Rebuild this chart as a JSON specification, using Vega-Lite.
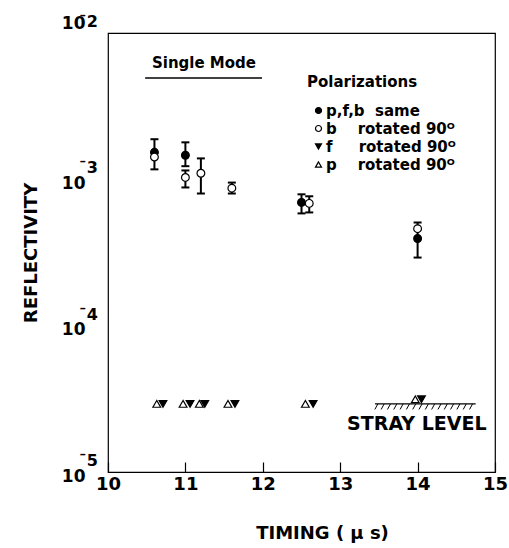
{
  "$schema": "https://vega.github.io/schema/vega-lite/v6.json",
  "width": 387,
  "height": 439,
  "autosize": "none",
  "padding": {"left": 108, "top": 33, "right": 14, "bottom": 76},
  "background": "white",
  "config": {"font": "DejaVu Sans", "view": {"stroke": "black", "strokeWidth": 1.2}},
  "datasets": {
    "pts": [
      {"t": 10.6, "s": "p,f,b same", "R": 0.00153, "lo": 0.00117, "hi": 0.00188},
      {"t": 11.0, "s": "p,f,b same", "R": 0.00146, "lo": 0.00123, "hi": 0.00179},
      {"t": 12.5, "s": "p,f,b same", "R": 0.000695, "lo": 0.000585, "hi": 0.00079},
      {"t": 14.0, "s": "p,f,b same", "R": 0.000394},
      {"t": 10.6, "s": "b rotated 90ᴼ", "R": 0.00142},
      {"t": 11.0, "s": "b rotated 90ᴼ", "R": 0.00103, "lo": 0.00088, "hi": 0.00115},
      {"t": 11.2, "s": "b rotated 90ᴼ", "R": 0.0011, "lo": 0.0008, "hi": 0.00139},
      {"t": 11.6, "s": "b rotated 90ᴼ", "R": 0.00087, "lo": 0.0008, "hi": 0.00095},
      {"t": 12.6, "s": "b rotated 90ᴼ", "R": 0.000685, "lo": 0.000594, "hi": 0.000766},
      {"t": 14.0, "s": "b rotated 90ᴼ", "R": 0.00046, "lo": 0.000292, "hi": 0.000507},
      {"t": 10.71, "s": "f rotated 90ᴼ", "R": 0.0000292},
      {"t": 11.06, "s": "f rotated 90ᴼ", "R": 0.0000292},
      {"t": 11.25, "s": "f rotated 90ᴼ", "R": 0.0000292},
      {"t": 11.64, "s": "f rotated 90ᴼ", "R": 0.0000292},
      {"t": 12.65, "s": "f rotated 90ᴼ", "R": 0.0000292},
      {"t": 14.05, "s": "f rotated 90ᴼ", "R": 0.0000314},
      {"t": 10.63, "s": "p rotated 90ᴼ", "R": 0.0000292},
      {"t": 10.97, "s": "p rotated 90ᴼ", "R": 0.0000292},
      {"t": 11.18, "s": "p rotated 90ᴼ", "R": 0.0000292},
      {"t": 11.55, "s": "p rotated 90ᴼ", "R": 0.0000292},
      {"t": 12.55, "s": "p rotated 90ᴼ", "R": 0.0000292},
      {"t": 13.97, "s": "p rotated 90ᴼ", "R": 0.0000314}
    ]
  },
  "layer": [
    {
      "data": {"values": [{"t": 13.45, "t2": 14.75, "R": 0.0000292}]},
      "mark": {"type": "rule", "color": "black", "strokeWidth": 1.2},
      "encoding": {
        "x": {"field": "t", "type": "quantitative"},
        "x2": {"field": "t2"},
        "y": {"field": "R", "type": "quantitative"}
      }
    },
    {
      "data": {"values": [{"t": 14.1, "R": 0.0000292}]},
      "mark": {"type": "point", "shape": "M-1,0.11L-0.94,0M-0.875,0.11L-0.815,0M-0.75,0.11L-0.69,0M-0.625,0.11L-0.565,0M-0.5,0.11L-0.44,0M-0.375,0.11L-0.315,0M-0.25,0.11L-0.19,0M-0.125,0.11L-0.065,0M0,0.11L0.06,0M0.125,0.11L0.185,0M0.25,0.11L0.31,0M0.375,0.11L0.435,0M0.5,0.11L0.56,0M0.625,0.11L0.685,0M0.75,0.11L0.81,0M0.875,0.11L0.935,0", "size": 10201, "filled": false, "stroke": "black", "strokeWidth": 1, "opacity": 1},
      "encoding": {
        "x": {"field": "t", "type": "quantitative"},
        "y": {"field": "R", "type": "quantitative"}
      }
    },
    {
      "data": {"name": "pts"},
      "transform": [{"filter": "isValid(datum.lo)"}],
      "mark": {"type": "rule", "color": "black", "strokeWidth": 2},
      "encoding": {
        "x": {"field": "t", "type": "quantitative"},
        "y": {"field": "lo", "type": "quantitative"},
        "y2": {"field": "hi"}
      }
    },
    {
      "data": {"name": "pts"},
      "transform": [{"filter": "isValid(datum.lo)"}],
      "mark": {"type": "tick", "orient": "horizontal", "size": 8, "thickness": 2, "color": "black", "opacity": 1},
      "encoding": {
        "x": {"field": "t", "type": "quantitative"},
        "y": {"field": "lo", "type": "quantitative"}
      }
    },
    {
      "data": {"name": "pts"},
      "transform": [{"filter": "isValid(datum.hi)"}],
      "mark": {"type": "tick", "orient": "horizontal", "size": 8, "thickness": 2, "color": "black", "opacity": 1},
      "encoding": {
        "x": {"field": "t", "type": "quantitative"},
        "y": {"field": "hi", "type": "quantitative"}
      }
    },
    {
      "data": {"name": "pts"},
      "mark": {"type": "point", "filled": true, "strokeWidth": 1.2, "size": 60, "opacity": 1},
      "encoding": {
        "x": {
          "field": "t", "type": "quantitative",
          "scale": {"domain": [10, 15], "nice": false, "zero": false},
          "axis": {"title": "TIMING ( μ s)", "values": [10, 11, 12, 13, 14, 15], "format": "d", "labelFlush": false, "tickSize": -10, "tickColor": "black", "tickWidth": 1.2, "labelPadding": 13, "labelFontSize": 18, "labelFontWeight": "bold", "labelColor": "black", "titleFontSize": 18, "titleFontWeight": "bold", "titleColor": "black", "titlePadding": 31, "titleX": 214, "domain": false, "grid": false}
        },
        "y": {
          "field": "R", "type": "quantitative",
          "scale": {"type": "log", "domain": [0.00001, 0.01]},
          "axis": {"title": "REFLECTIVITY", "values": [0.00001, 0.0001, 0.001, 0.01], "labelExpr": "'10'", "ticks": false, "domain": false, "grid": false, "labelPadding": 23, "labelFontSize": 17, "labelFontWeight": "bold", "labelColor": "black", "labelOffset": {"condition": {"test": "datum.value > 0.005", "value": -10}, "value": 4}, "titleFontSize": 18, "titleFontWeight": "bold", "titleColor": "black", "titlePadding": 21}
        },
        "shape": {
          "field": "s", "type": "nominal",
          "scale": {"domain": ["p,f,b same", "b rotated 90ᴼ", "f rotated 90ᴼ", "p rotated 90ᴼ"], "range": ["circle", "circle", "triangle-down", "triangle-up"]},
          "legend": {"title": "Polarizations", "orient": "none", "legendX": 199, "legendY": 42, "titleFontSize": 15, "titleFontWeight": "bold", "titleColor": "black", "titlePadding": 13, "labelFontSize": 15, "labelFontWeight": "bold", "labelColor": "black", "symbolOffset": 4, "labelOffset": 0, "symbolSize": 36, "symbolStrokeWidth": 1.2, "rowPadding": 2, "labelExpr": "datum.label == 'p,f,b same' ? 'p,f,b\u00a0\u00a0same' : datum.label[0] == 'f' ? 'f\u00a0\u00a0\u00a0\u00a0\u00a0rotated 90ᴼ' : datum.label[0] + '\u00a0\u00a0\u00a0\u00a0rotated 90ᴼ'"}
        },
        "fill": {
          "field": "s", "type": "nominal",
          "scale": {"domain": ["p,f,b same", "b rotated 90ᴼ", "f rotated 90ᴼ", "p rotated 90ᴼ"], "range": ["black", "white", "black", "white"]},
          "legend": {"title": "Polarizations", "orient": "none", "legendX": 199, "legendY": 42, "titleFontSize": 15, "titleFontWeight": "bold", "titleColor": "black", "titlePadding": 13, "labelFontSize": 15, "labelFontWeight": "bold", "labelColor": "black", "symbolOffset": 4, "labelOffset": 0, "symbolSize": 36, "symbolStrokeWidth": 1.2, "rowPadding": 2, "labelExpr": "datum.label == 'p,f,b same' ? 'p,f,b\u00a0\u00a0same' : datum.label[0] == 'f' ? 'f\u00a0\u00a0\u00a0\u00a0\u00a0rotated 90ᴼ' : datum.label[0] + '\u00a0\u00a0\u00a0\u00a0rotated 90ᴼ'"}
        },
        "stroke": {
          "field": "s", "type": "nominal",
          "scale": {"domain": ["p,f,b same", "b rotated 90ᴼ", "f rotated 90ᴼ", "p rotated 90ᴼ"], "range": ["black", "black", "black", "black"]},
          "legend": {"title": "Polarizations", "orient": "none", "legendX": 199, "legendY": 42, "titleFontSize": 15, "titleFontWeight": "bold", "titleColor": "black", "titlePadding": 13, "labelFontSize": 15, "labelFontWeight": "bold", "labelColor": "black", "symbolOffset": 4, "labelOffset": 0, "symbolSize": 36, "symbolStrokeWidth": 1.2, "rowPadding": 2, "labelExpr": "datum.label == 'p,f,b same' ? 'p,f,b\u00a0\u00a0same' : datum.label[0] == 'f' ? 'f\u00a0\u00a0\u00a0\u00a0\u00a0rotated 90ᴼ' : datum.label[0] + '\u00a0\u00a0\u00a0\u00a0rotated 90ᴼ'"}
        }
      }
    },
    {
      "data": {"values": [{"t": 11.24, "R": 0.00623, "label": "Single Mode"}, {"t": 13.99, "R": 0.0000213, "label": "STRAY LEVEL"}]},
      "mark": {"type": "text", "fontWeight": "bold", "color": "black", "baseline": "middle"},
      "encoding": {
        "x": {"field": "t", "type": "quantitative"},
        "y": {"field": "R", "type": "quantitative"},
        "text": {"field": "label"},
        "size": {"field": "label", "type": "nominal", "scale": {"domain": ["Single Mode", "STRAY LEVEL"], "range": [15, 19]}, "legend": null}
      }
    },
    {
      "data": {"values": [{"t": 10.48, "t2": 11.99, "R": 0.00492}]},
      "mark": {"type": "rule", "color": "black", "strokeWidth": 1.5},
      "encoding": {
        "x": {"field": "t", "type": "quantitative"},
        "x2": {"field": "t2"},
        "y": {"field": "R", "type": "quantitative"}
      }
    },
    {
      "data": {"values": [{"R": 0.01, "e": "¯2"}, {"R": 0.001, "e": "¯3"}, {"R": 0.0001, "e": "¯4"}, {"R": 0.00001, "e": "¯5"}]},
      "mark": {"type": "text", "align": "right", "baseline": "middle", "dx": -10, "fontSize": 16, "fontWeight": "bold", "color": "black"},
      "encoding": {
        "x": {"datum": 10, "type": "quantitative"},
        "y": {"field": "R", "type": "quantitative"},
        "yOffset": {"condition": {"test": "datum.R > 0.005", "value": -16}, "value": -11},
        "text": {"field": "e"}
      }
    }
  ]
}
